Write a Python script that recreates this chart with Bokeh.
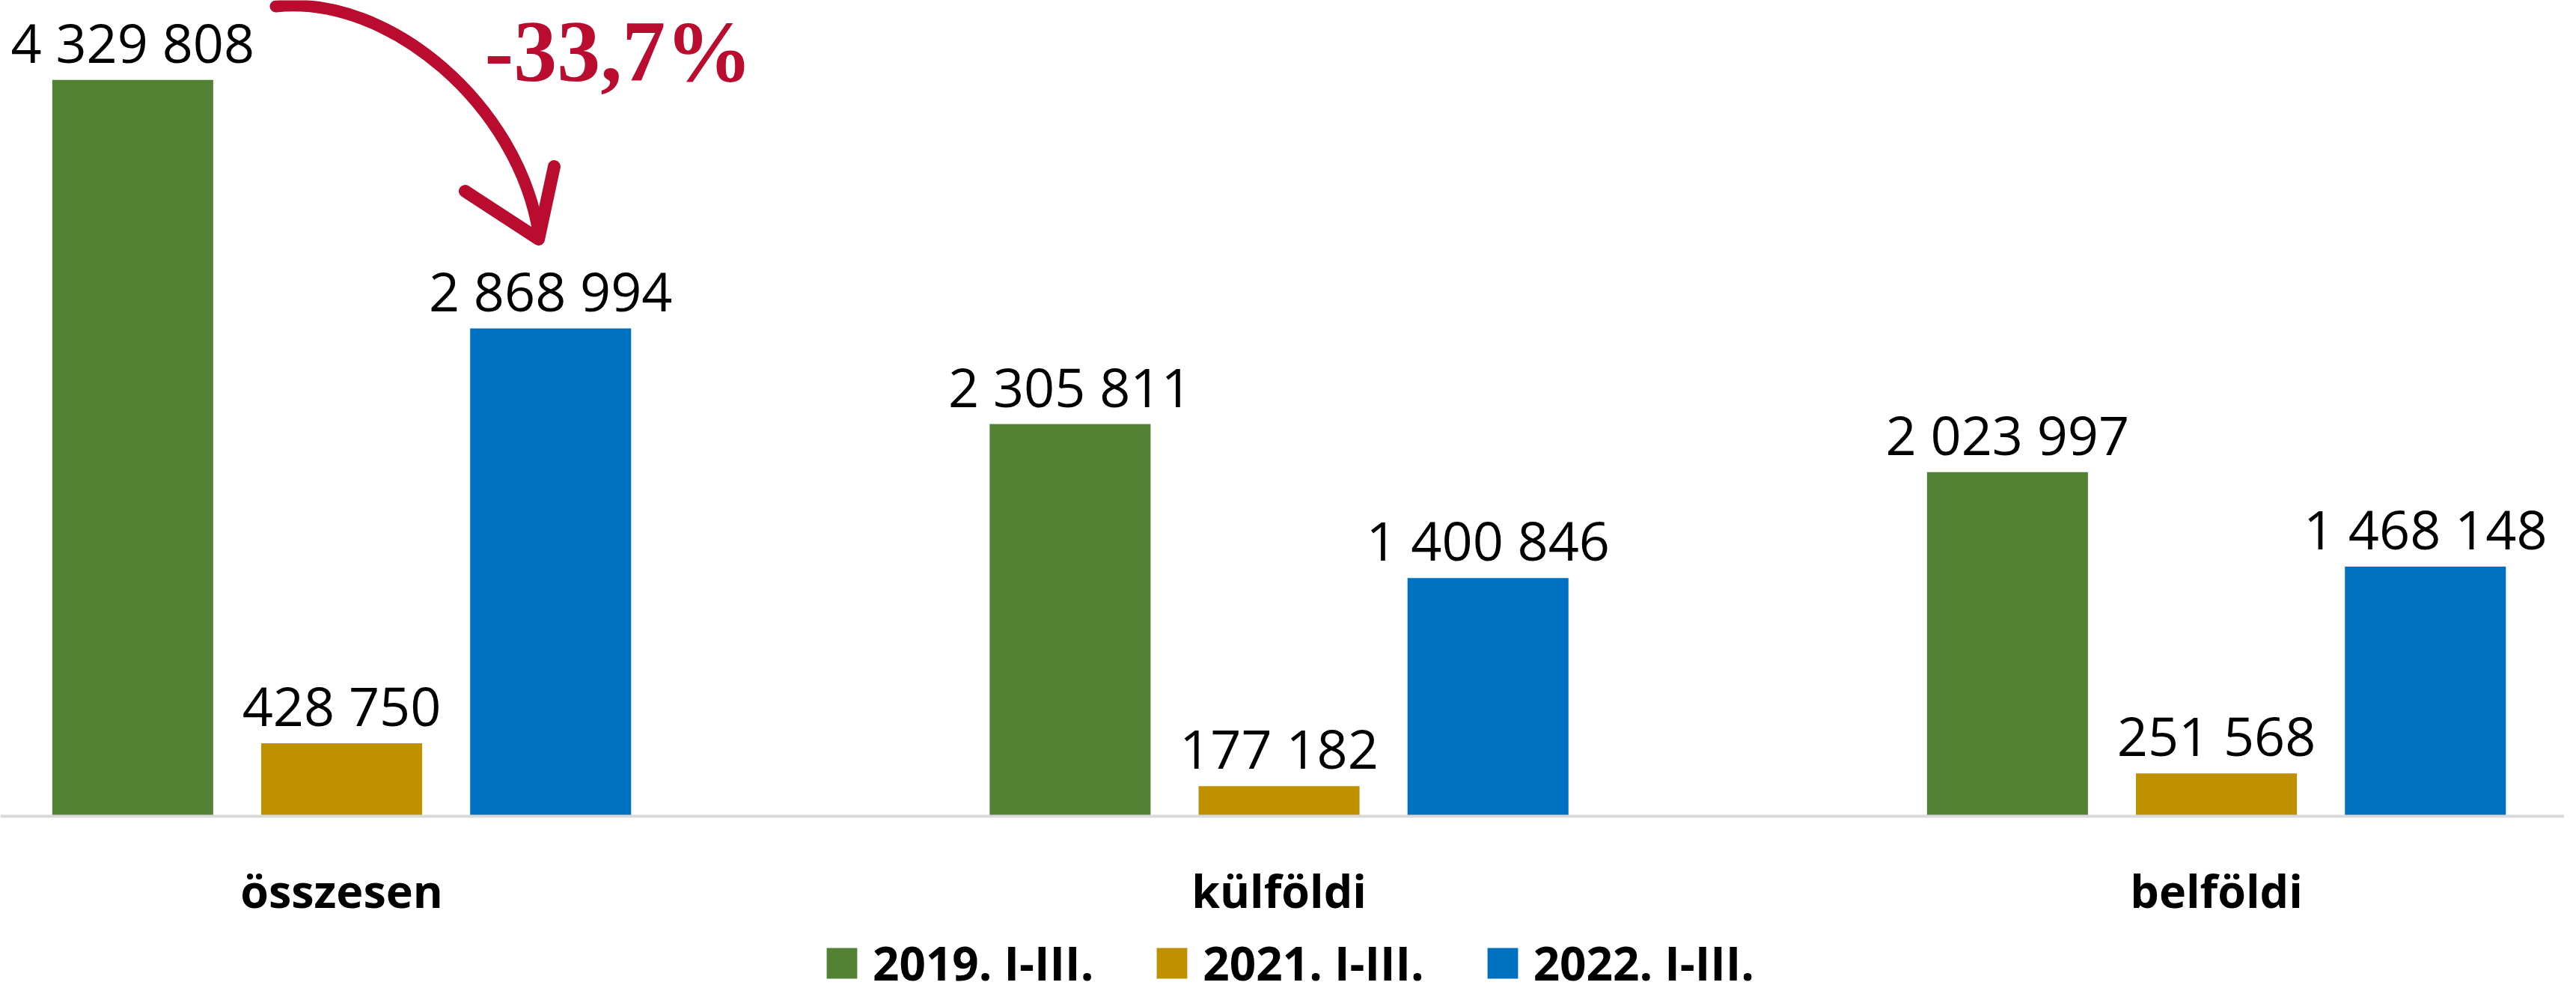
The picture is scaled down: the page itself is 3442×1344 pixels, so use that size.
from bokeh.plotting import figure
from bokeh.models import ColumnDataSource, Range1d, FixedTicker, Legend, LegendItem, Label
from bokeh.transform import dodge
from bokeh.core.properties import value
from bokeh.embed import file_html
from bokeh.resources import INLINE

# ---- data ----
categories = ["összesen", "külföldi", "belföldi"]
series_names = ["2019. I-III.", "2021. I-III.", "2022. I-III."]
v2019 = [4329808, 2305811, 2023997]
v2021 = [428750, 177182, 251568]
v2022 = [2868994, 1400846, 1468148]
colors = ["#548235", "#BF9000", "#0070C0"]
crimson = "#BA0C2F"


def fmt(v):
    return f"{v:,}".replace(",", " ")


src = ColumnDataSource(dict(
    idx=list(range(len(categories))),
    v2019=v2019, v2021=v2021, v2022=v2022,
    l2019=[fmt(v) for v in v2019],
    l2021=[fmt(v) for v in v2021],
    l2022=[fmt(v) for v in v2022],
))

W, H = 3426, 1328
p = figure(width=W, height=H, output_backend="svg", toolbar_location=None,
           x_range=Range1d(-0.3641, 2.3712), y_range=Range1d(-1047600, 4797600),
           y_axis_location=None, min_border_left=0, min_border_right=0,
           min_border_top=0, min_border_bottom=0)
p.outline_line_color = None
p.grid.visible = False
p.background_fill_color = "white"

offsets = [-0.2229, 0.0, 0.2229]
keys = ["2019", "2021", "2022"]
renderers = []
for key, off, col in zip(keys, offsets, colors):
    r = p.vbar(x=dodge("idx", off, range=p.x_range), top="v" + key, bottom=0, width=0.1717,
               source=src, fill_color=col, line_color=None)
    renderers.append(r)
    p.text(x=dodge("idx", off, range=p.x_range), y="v" + key, text="l" + key,
           source=src, text_align="center", text_baseline="middle",
           y_offset=-51, text_font=value("Open Sans"), text_font_size="72px",
           text_color="black")

# x axis drawn at y = 0
ax = p.xaxis[0]
ax.fixed_location = 0
ax.ticker = FixedTicker(ticks=list(range(len(categories))))
ax.major_label_overrides = {i: c for i, c in enumerate(categories)}
ax.axis_line_color = "#D9D9D9"
ax.axis_line_width = 4
ax.major_tick_line_color = None
ax.minor_tick_line_color = None
ax.major_label_text_font = "Open Sans"
ax.major_label_text_font_size = "61px"
ax.major_label_text_font_style = "bold"
ax.major_label_text_color = "black"
ax.major_label_standoff = 52

# legend
legend = Legend(items=[LegendItem(label=n, renderers=[r]) for n, r in zip(series_names, renderers)],
                orientation="horizontal", location=(1099, 0),
                glyph_width=51, glyph_height=51, label_standoff=16, spacing=79,
                padding=0, margin=0, border_line_color=None, background_fill_alpha=0,
                label_text_font="Open Sans", label_text_font_size="62px",
                label_text_font_style="bold", label_text_color="black")
p.add_layout(legend)

# change annotation
pct = (v2022[0] / v2019[0] - 1) * 100
pct_text = f"{pct:.1f}%".replace(".", ",")
p.add_layout(Label(x=0.1525, y=4498000, text=pct_text, text_font="Liberation Serif",
                   text_font_size="116px", text_font_style="bold", text_color=crimson,
                   text_align="left", text_baseline="middle"))

p.bezier(x0=[-0.0703], y0=[4762400], x1=[0.2100], y1=[3433200],
         cx0=[0.0527], cy0=[4832800], cx1=[0.1884], cy1=[4172600],
         line_color=crimson, line_width=16, line_cap="round")
p.line(x=[0.1317, 0.2100, 0.2267], y=[3675300, 3393600, 3820500],
       line_color=crimson, line_width=17, line_cap="round", line_join="round")

open("out.html", "w").write(file_html(p, INLINE))
